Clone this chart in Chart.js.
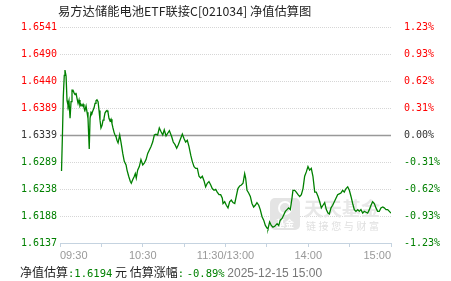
<!DOCTYPE html>
<html>
<head>
<meta charset="utf-8">
<script src="https://cdn.jsdelivr.net/npm/chart.js@4"></script>
<style>
html,body{margin:0;padding:0;background:#fff;}
#wrap{position:relative;width:451px;height:281px;overflow:hidden;}
#title{position:absolute;left:58px;top:2px;line-height:18px;font-size:12.3px;font-family:"Noto Sans CJK SC";color:#222;white-space:nowrap;}
#foot{position:absolute;left:20px;top:263px;line-height:18px;font-size:12px;font-family:"Noto Sans CJK SC";color:#222;white-space:nowrap;}
.num{font-family:"DejaVu Sans Mono";font-size:10.5px;color:#008000;}
.date{font-family:"Liberation Sans";color:#777;}
</style>
</head>
<body>
<div id="wrap">
  <canvas id="navChart"></canvas>
  <div id="title">易方达储能电池ETF联接C[021034] 净值估算图</div>
  <div id="foot">净值估算<span class="num">:</span><span class="num">1.6194</span> 元 估算涨幅<span class="num">:</span> <span class="num">-0.89%</span> <span class="date">2025-12-15 15:00</span></div>
</div>
<script>
// minutes after 09:30 (lunch break removed), estimated change in %
const mins = [1.1,1.8,2.4,3.1,3.6,4.4,5.1,5.8,6.5,7.3,8.0,8.7,9.4,10.2,10.9,11.6,12.3,13.1,13.8,14.5,15.2,16.0,16.7,17.4,18.1,18.9,19.6,20.3,21.2,21.8,
  22.5,23.2,23.9,24.7,25.4,26.1,26.8,27.6,28.3,29.0,29.7,30.5,31.2,31.9,32.6,33.4,34.1,34.8,35.5,36.3,37.0,37.7,38.4,39.2,39.9,40.6,41.3,42.1,43.3,44.3,
  45.5,46.6,47.9,48.6,49.8,51.0,51.7,52.7,53.9,54.6,55.3,56.3,57.5,58.7,60.0,61.1,62.4,63.6,64.8,66.0,67.2,68.4,69.6,70.8,72.0,73.2,74.5,75.6,76.9,78.1,
  79.3,81.0,82.1,83.4,84.6,85.8,87.0,88.7,89.9,91.1,92.3,93.5,94.8,95.9,97.2,98.4,99.6,100.8,102.0,103.2,104.4,105.6,106.8,108.0,109.3,110.4,111.7,112.9,114.0,115.3,
  116.5,117.7,118.2,119.4,120.6,121.8,123.0,124.2,125.4,126.7,127.8,129.0,130.3,131.5,132.7,133.9,134.6,135.6,136.8,138.0,139.2,140.4,141.6,142.8,144.1,145.2,146.5,147.7,148.9,150.1,
  150.8,152.0,153.2,154.4,155.7,157.4,158.6,159.7,161.0,162.2,163.4,164.6,165.8,167.0,168.2,168.9,170.2,171.3,172.6,173.8,175.0,176.2,177.4,178.6,179.8,181.0,182.2,183.4,184.7,185.8,
  187.1,188.3,189.5,190.7,191.9,193.1,194.3,195.3,196.5,197.7,198.9,200.1,201.3,202.5,203.7,205.0,206.1,207.4,208.6,209.8,211.0,212.2,213.4,214.6,215.9,217.0,218.2,219.5,220.6,221.9,
  223.1,224.3,225.5,226.7,227.9,229.1,230.3,231.5,232.7,234.0,235.1,236.4,237.6,238.8,240.0];
const pct = [-0.41,0.02,0.44,0.68,0.74,0.67,0.39,0.34,0.39,0.19,0.38,0.51,0.51,0.48,0.46,0.48,0.42,0.36,0.40,0.33,0.35,0.33,0.35,0.31,0.28,0.33,0.26,0.19,-0.16,0.19,
  0.26,0.25,0.28,0.31,0.36,0.39,0.40,0.38,0.28,0.17,0.08,0.11,0.17,0.19,0.25,0.27,0.28,0.26,0.19,0.16,0.18,0.13,0.08,0.03,0.00,-0.02,-0.06,-0.09,0.00,-0.09,
  -0.21,-0.30,-0.34,-0.40,-0.47,-0.53,-0.55,-0.51,-0.47,-0.44,-0.49,-0.40,-0.36,-0.28,-0.34,-0.32,-0.28,-0.21,-0.17,-0.13,-0.08,0.00,0.01,0.00,0.08,0.04,0.00,0.06,-0.01,0.02,
  0.05,-0.02,-0.08,-0.11,-0.15,-0.11,-0.06,0.01,-0.04,-0.08,-0.06,-0.13,-0.23,-0.30,-0.36,-0.38,-0.38,-0.47,-0.49,-0.47,-0.52,-0.59,-0.55,-0.53,-0.57,-0.61,-0.63,-0.62,-0.65,-0.68,
  -0.68,-0.72,-0.78,-0.76,-0.80,-0.83,-0.76,-0.74,-0.77,-0.78,-0.70,-0.61,-0.58,-0.57,-0.55,-0.44,-0.49,-0.63,-0.66,-0.70,-0.78,-0.82,-0.80,-0.77,-0.80,-0.85,-0.93,-0.97,-1.03,-1.06,
  -1.07,-0.99,-1.03,-1.05,-1.04,-1.01,-1.03,-0.97,-0.95,-0.91,-0.87,-0.85,-0.83,-0.85,-0.72,-0.63,-0.63,-0.65,-0.68,-0.70,-0.68,-0.61,-0.47,-0.42,-0.36,-0.40,-0.38,-0.47,-0.65,-0.65,
  -0.70,-0.76,-0.83,-0.80,-0.77,-0.85,-0.89,-0.90,-0.83,-0.80,-0.76,-0.72,-0.68,-0.67,-0.66,-0.63,-0.65,-0.61,-0.59,-0.63,-0.70,-0.78,-0.85,-0.87,-0.85,-0.87,-0.85,-0.89,-0.87,-0.88,
  -0.89,-0.85,-0.80,-0.76,-0.78,-0.83,-0.87,-0.87,-0.83,-0.82,-0.83,-0.85,-0.85,-0.87,-0.89];

// axis labels, bottom to top
const navLabels = ["1.6137","1.6188","1.6238","1.6289","1.6339","1.6389","1.6440","1.6490","1.6541"];
const pctLabels = ["-1.23%","-0.93%","-0.62%","-0.31%","0.00%","0.31%","0.62%","0.93%","1.23%"];
const timeTicks = [0,60,120,180,240];
const timeLabels = ["09:30","10:30","11:30/13:00","14:00","15:00"];
const pctMax = 1.23;

function yTicks(s){ s.ticks = navLabels.map((_, i) => ({ value: -pctMax + i * pctMax / 4 })); }
function sideColor(c){ const v = c.tick.value; return v > 1e-6 ? "#ff0000" : v < -1e-6 ? "#008000" : "#333"; }

const zeroLine = {
  id: "zeroLine",
  beforeDatasetsDraw(chart){
    const { ctx, chartArea: a } = chart;
    const y = Math.round(chart.scales.y.getPixelForValue(0)) + 0.5;
    ctx.save();
    ctx.strokeStyle = "#999"; ctx.lineWidth = 1.5;
    ctx.beginPath(); ctx.moveTo(a.left, y); ctx.lineTo(a.right, y); ctx.stroke();
    ctx.restore();
  }
};

// faint site watermark
const watermark = {
  id: "watermark",
  beforeDatasetsDraw(chart){
    const ctx = chart.ctx;
    ctx.save();
    ctx.fillStyle = "#e4e4e4";
    ctx.beginPath(); ctx.roundRect(270, 198, 30, 32, 5); ctx.fill();
    ctx.fillStyle = "#fff";
    ctx.font = "bold 9px 'Noto Sans CJK SC'"; ctx.textAlign = "center";
    ctx.fillText("基金", 285, 227);
    ctx.beginPath(); ctx.arc(285, 208, 6, 0, Math.PI * 2); ctx.lineWidth = 2; ctx.strokeStyle = "#fff"; ctx.stroke();
    ctx.fillStyle = "#e8e8e8"; ctx.textAlign = "left";
    ctx.font = "bold 19px 'Noto Sans CJK SC'";
    ctx.fillText("天天基金", 304, 216);
    ctx.font = "10px 'Noto Sans CJK SC'"; ctx.fillStyle = "#e0e0e0";
    "链接您与财富".split("").forEach((ch, i) => ctx.fillText(ch, 306 + i * 12.6, 230));
    ctx.restore();
  }
};

new Chart(document.getElementById("navChart"), {
  type: "line",
  data: { datasets: [{ data: mins.map((m, i) => ({ x: m, y: pct[i] })), borderColor: "#008000", borderWidth: 1.3, pointRadius: 0, tension: 0, fill: false }] },
  options: {
    responsive: true, maintainAspectRatio: false, animation: false, events: [],
    layout: { padding: { top: 27, left: 0, right: 0, bottom: 0 } },
    plugins: { legend: { display: false }, tooltip: { enabled: false } },
    scales: {
      x: {
        type: "linear", min: 0, max: 240,
        afterBuildTicks: s => { s.ticks = [0,30,60,90,120,150,180,210,240].map(v => ({ value: v })); },
        afterFit: s => { s.height = 38; },
        ticks: { autoSkip: false, maxRotation: 0, align: "inner", padding: 2, color: "#999", font: { family: "Liberation Sans", size: 11 },
          callback: v => { const k = timeTicks.indexOf(v); return k >= 0 ? timeLabels[k] : ""; } },
        grid: { drawOnChartArea: false, color: "#c5d3e0", tickLength: 4 },
        border: { color: "#c5d3e0" }
      },
      y: {
        position: "left", min: -pctMax, max: pctMax,
        afterBuildTicks: yTicks,
        afterFit: s => { s.width = 60; },
        ticks: { autoSkip: false, padding: 3, color: sideColor, font: { family: "DejaVu Sans Mono", size: 10 }, callback: (v, i) => navLabels[i] },
        grid: { color: "#d6d6d6", drawTicks: false },
        border: { display: false, dash: [1, 1] }
      },
      y2: {
        position: "right", min: -pctMax, max: pctMax,
        afterBuildTicks: yTicks,
        afterFit: s => { s.width = 60; },
        ticks: { autoSkip: false, padding: 5, color: sideColor, font: { family: "DejaVu Sans Mono", size: 10 }, callback: (v, i) => pctLabels[i] },
        grid: { display: false },
        border: { display: false }
      }
    }
  },
  plugins: [zeroLine, watermark]
});
</script>
</body>
</html>
